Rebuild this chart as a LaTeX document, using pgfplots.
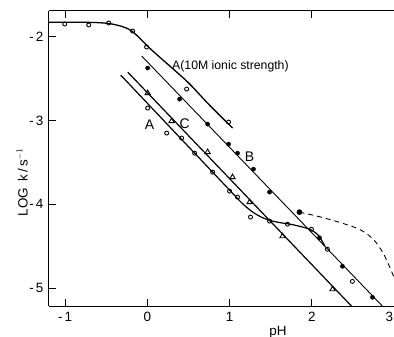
\documentclass[border=0pt]{standalone}
\usepackage{pgfplots}
\pgfplotsset{compat=1.18}
\usepackage{fontspec}
\setmainfont{Liberation Sans}
\begin{document}
\begin{tikzpicture}
\begin{axis}[
  name=ax,
  scale only axis, width=345bp, height=295bp,
  xmin=-1.196, xmax=3.0, ymin=-5.214, ymax=-1.693,
  axis x line*=box, axis y line*=left,
  axis line style={line width=1bp},
  tick align=inside,
  major tick length=7bp,
  tick style={line width=0.9bp, black},
  xtick={-1,0,1,2,3}, xticklabels={-\,1,0,1,2,{\makebox[0pt][r]{3\hspace{1bp}}}},
  ytick={-2,-3,-4,-5}, yticklabels={-\,2,-\,3,-\,4,-\,5},
  tick label style={font=\fontsize{13.5}{15}\selectfont},
  xticklabel style={yshift=-3bp},
  yticklabel style={xshift=-2bp},
  xlabel={pH},
  xlabel style={at={(axis description cs:0.664,-0.088)}, anchor=center, font=\fontsize{13.5}{15}\selectfont},
  ylabel={LOG\hspace{6bp}k\,/\,s$^{-1}$},
  ylabel style={at={(axis description cs:-0.078,0.42)}, anchor=center, font=\fontsize{13.5}{15}\selectfont},
]
% top curve: A (10M ionic strength)
\addplot[black, line width=1.3bp, smooth, tension=0.55] coordinates {
  (-1.196,-1.828) (-0.8,-1.828) (-0.6,-1.832) (-0.45,-1.845) (-0.3,-1.88)
  (-0.2,-1.925) (-0.1,-2.01) (0.0,-2.11) (0.1,-2.20) (0.25,-2.33)
  (0.5,-2.55) (0.75,-2.81) (1.036,-3.09)};
\addplot[black, only marks, mark=o, mark size=2bp, mark options={line width=0.9bp}] coordinates {
  (-1.005,-1.848) (-0.713,-1.860) (-0.47,-1.836) (-0.179,-1.932)
  (-0.009,-2.123) (0.478,-2.625) (0.988,-3.019)};
% line B
\addplot[black, line width=0.9bp] coordinates {(-0.069,-2.23) (2.858,-5.214)};
\addplot[black, only marks, mark=*, mark size=2.1bp] coordinates {
  (0.004,-2.374) (0.392,-2.745) (0.733,-3.043) (0.988,-3.282) (1.097,-3.39)
  (1.291,-3.58) (1.486,-3.855) (2.094,-4.40) (2.373,-4.74) (2.738,-5.11)};
\addplot[black, only marks, mark=*, mark size=2.6bp] coordinates {(1.85,-4.094)};
% dashed branch
\addplot[black, line width=0.9bp, dash pattern=on 5bp off 4bp, smooth, tension=0.6] coordinates {
  (1.85,-4.094) (2.1,-4.15) (2.4,-4.235) (2.6,-4.31) (2.75,-4.42)
  (2.86,-4.57) (2.93,-4.71) (3.0,-4.87)};
% line C
\addplot[black, line width=1.2bp] coordinates {(-0.239,-2.422) (2.482,-5.214)};
\addplot[black, only marks, mark=triangle, mark size=3bp, mark options={line width=0.9bp}] coordinates {
  (0.004,-2.673) (0.295,-3.007) (0.733,-3.377) (1.036,-3.676)
  (1.243,-3.975) (1.644,-4.381) (2.252,-5.014)};
% curve A
\addplot[black, line width=1.2bp, smooth, tension=0.5] coordinates {
  (-0.324,-2.458) (0.5,-3.312) (1.0,-3.83) (1.15,-3.985) (1.27,-4.085)
  (1.38,-4.15) (1.5,-4.195) (1.62,-4.22) (1.75,-4.24) (1.88,-4.27)
  (1.98,-4.30) (2.08,-4.37) (2.16,-4.50)};
\addplot[black, only marks, mark=o, mark size=2bp, mark options={line width=0.9bp}] coordinates {
  (0.004,-2.852) (0.235,-3.15) (0.417,-3.21) (0.575,-3.39) (0.794,-3.616)
  (1.0,-3.843) (1.097,-3.914) (1.255,-4.153) (1.486,-4.20) (1.705,-4.238)
  (1.996,-4.298) (2.19,-4.537) (2.494,-4.92)};
% labels
\node[anchor=west, font=\fontsize{12.3}{14}\selectfont, inner sep=0pt] at (axis cs:0.30,-2.35) {A(10M ionic strength)};
\node[font=\fontsize{14}{16}\selectfont, inner sep=0pt] at (axis cs:0.028,-3.055) {A};
\node[font=\fontsize{14}{16}\selectfont, inner sep=0pt] at (axis cs:0.453,-3.043) {C};
\node[font=\fontsize{14}{16}\selectfont, inner sep=0pt] at (axis cs:1.243,-3.437) {B};
\end{axis}
\pgfresetboundingbox
\path[use as bounding box] ([xshift=-49bp,yshift=-31bp]ax.south west) rectangle ([yshift=11bp]ax.north east);
\end{tikzpicture}
\end{document}
